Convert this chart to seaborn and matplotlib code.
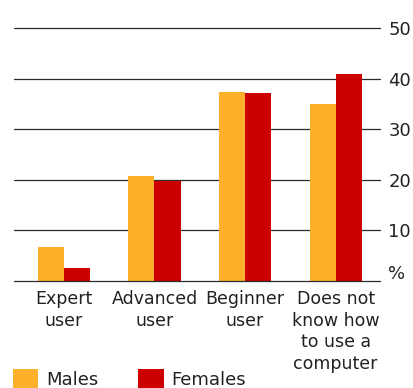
import matplotlib
matplotlib.use("Agg")
import matplotlib.pyplot as plt
import seaborn as sns
import pandas as pd
from matplotlib.patches import Patch
from matplotlib.transforms import ScaledTranslation

categories = ["Expert\nuser", "Advanced\nuser", "Beginner\nuser", "Does not\nknow how\nto use a\ncomputer"]
males = [6.6, 20.7, 37.3, 34.9]
females = [2.5, 19.7, 37.1, 40.9]
series = ["Males", "Females"]
colors = ["#FDB12A", "#CC0000"]
yticks = [0, 10, 20, 30, 40, 50]
ytick_labels = ["%", "10", "20", "30", "40", "50"]

df = pd.DataFrame({
    "category": categories * 2,
    "value": males + females,
    "sex": [series[0]] * len(categories) + [series[1]] * len(categories),
})

sns.set_style("white")
plt.rcParams["font.family"] = ["DejaVu Sans"]

fig = plt.figure(figsize=(4.14, 3.88), dpi=100)
ax = fig.add_axes([0.034, 0.277, 0.884, 0.650])

sns.barplot(data=df, x="category", y="value", hue="sex", order=categories,
            hue_order=series, palette=colors, width=0.575, saturation=1,
            edgecolor="none", linewidth=0, ax=ax, legend=False, zorder=3)

ax.set_xlim(-0.55, 3.49)
ax.set_ylim(0, 50)
for y in yticks:
    ax.axhline(y, color="#2a2a2a", linewidth=0.9, zorder=1 if y else 4,
               clip_on=False, snap=True)

ax.yaxis.tick_right()
ax.set_yticks(yticks)
ax.set_yticklabels(ytick_labels, fontsize=13, color="#222222")
ax.tick_params(axis="y", length=0, pad=6)
# lift the unit label a little above the baseline
pct = ax.get_yticklabels()[0]
pct.set_transform(pct.get_transform() + ScaledTranslation(0, 6 / 72, fig.dpi_scale_trans))

ax.tick_params(axis="x", length=0, pad=7, labelsize=12.5, labelcolor="#222222")
for lbl in ax.get_xticklabels():
    lbl.set_linespacing(1.25)
ax.set_xlabel("")
ax.set_ylabel("")
for s in ax.spines.values():
    s.set_visible(False)

handles = [Patch(facecolor=c, edgecolor="none", label=n) for c, n in zip(colors, series)]
fig.legend(handles=handles, loc="lower left", bbox_to_anchor=(-0.008, -0.045), ncol=2,
           frameon=False, fontsize=13, handlelength=1.4, handleheight=1.3,
           handletextpad=0.45, columnspacing=2.2, labelcolor="#222222")

fig.savefig("out.png", dpi=100)
